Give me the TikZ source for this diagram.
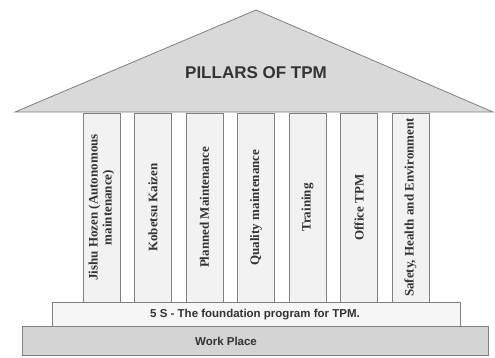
\documentclass[tikz,border=0pt]{standalone}
\usepackage{fontspec}
\setmainfont{Liberation Serif}
\setsansfont{Liberation Sans}
\definecolor{roofgray}{HTML}{D9D9D9}
\definecolor{pillargray}{HTML}{F2F2F2}
\definecolor{basegray}{HTML}{D4D4D4}
\definecolor{fivesgray}{HTML}{F6F6F6}
\definecolor{edgegray}{HTML}{808080}
\definecolor{txtgray}{HTML}{333333}
\begin{document}
\begin{tikzpicture}[x=1pt,y=-1pt,
  edge/.style={draw=edgegray,line width=0.8pt},
  pillarbox/.style={edge,fill=pillargray,rotate=90,minimum width=189pt,minimum height=37pt,inner sep=0pt,
    font=\fontsize{13}{14}\selectfont\bfseries,text=txtgray,align=center},
  slab/.style={edge,inner sep=0pt},
  slabtext/.style={inner sep=0pt,font=\sffamily\bfseries\fontsize{11.5}{13}\selectfont,text=txtgray}]
\useasboundingbox (0,0) rectangle (495,357);
% roof
\coordinate (apex) at (256,10);
\coordinate (rl) at (15,112);
\coordinate (rr) at (493,112);
\filldraw[edge,fill=roofgray] (rl) -- (apex) -- (rr) -- cycle;
\node[font=\sffamily\bfseries\fontsize{17}{19}\selectfont,text=txtgray] (title) at (256,73) {PILLARS OF TPM};
% pillars
\node[pillarbox] (p1) at (101.5,207.5) {Jishu Hozen (Autonomous\\maintenance)};
\node[pillarbox] (p2) at (153,207.5) {Kobetsu Kaizen};
\node[pillarbox] (p3) at (204.5,207.5) {Planned Maintenance};
\node[pillarbox] (p4) at (256,207.5) {Quality maintenance};
\node[pillarbox] (p5) at (307.5,207.5) {Training};
\node[pillarbox] (p6) at (359,207.5) {Office TPM};
\node[pillarbox] (p7) at (410.5,207.5) {Safety, Health and Environment};
% foundation
\node[slab,fill=fivesgray,minimum width=408pt,minimum height=24.5pt] (fives) at (256,314.5) {};
\node[slabtext] (fivestxt) at (255,314.5) {5 S - The foundation program for TPM.};
\node[slab,fill=basegray,minimum width=466pt,minimum height=28.5pt] (work) at (255,341) {};
\node[slabtext] (worktxt) at (226,341) {Work Place};
\end{tikzpicture}
\end{document}
